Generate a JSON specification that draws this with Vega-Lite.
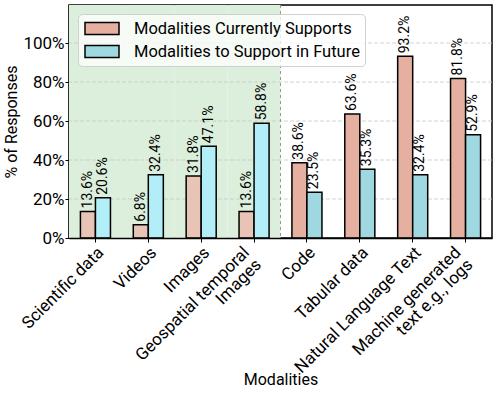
{
  "$schema": "https://vega.github.io/schema/vega-lite/v6.json",
  "width": 423,
  "height": 233,
  "autosize": {"type": "none"},
  "padding": {"left": 69, "top": 5, "right": 7, "bottom": 160},
  "config": {
    "font": "Roboto",
    "view": {"stroke": "black", "strokeWidth": 1.5},
    "axis": {"labelColor": "black", "titleColor": "black", "tickColor": "black", "domainColor": "black", "labelFontSize": 17, "titleFontSize": 16, "titleFontWeight": "normal", "grid": false, "tickSize": 4, "domainWidth": 1.5, "tickWidth": 1}
  },
  "datasets": {
    "main": [
      {"modality": "Scientific data", "series": "Modalities Currently Supports", "region": "left", "value": 0.136},
      {"modality": "Scientific data", "series": "Modalities to Support in Future", "region": "left", "value": 0.206},
      {"modality": "Videos", "series": "Modalities Currently Supports", "region": "left", "value": 0.068},
      {"modality": "Videos", "series": "Modalities to Support in Future", "region": "left", "value": 0.324},
      {"modality": "Images", "series": "Modalities Currently Supports", "region": "left", "value": 0.318},
      {"modality": "Images", "series": "Modalities to Support in Future", "region": "left", "value": 0.471},
      {"modality": "Geospatial temporal Images", "series": "Modalities Currently Supports", "region": "left", "value": 0.136},
      {"modality": "Geospatial temporal Images", "series": "Modalities to Support in Future", "region": "left", "value": 0.588},
      {"modality": "Code", "series": "Modalities Currently Supports", "region": "right", "value": 0.386},
      {"modality": "Code", "series": "Modalities to Support in Future", "region": "right", "value": 0.235},
      {"modality": "Tabular data", "series": "Modalities Currently Supports", "region": "right", "value": 0.636},
      {"modality": "Tabular data", "series": "Modalities to Support in Future", "region": "right", "value": 0.353},
      {"modality": "Natural Language Text", "series": "Modalities Currently Supports", "region": "right", "value": 0.932},
      {"modality": "Natural Language Text", "series": "Modalities to Support in Future", "region": "right", "value": 0.324},
      {"modality": "Machine generated text e.g., logs", "series": "Modalities Currently Supports", "region": "right", "value": 0.818},
      {"modality": "Machine generated text e.g., logs", "series": "Modalities to Support in Future", "region": "right", "value": 0.529}
    ],
    "ticks": [{"t": 0.2}, {"t": 0.4}, {"t": 0.6}, {"t": 0.8}, {"t": 1.0}]
  },
  "layer": [
    {
      "data": {"name": "main"},
      "transform": [{"filter": "datum.region == 'left' && datum.series == 'Modalities Currently Supports'"}],
      "mark": {"type": "rect", "fill": "#dcefdc"},
      "encoding": {
        "x": {
          "field": "modality", "type": "nominal", "title": "Modalities",
          "scale": {"domain": ["Scientific data", "Videos", "Images", "Geospatial temporal Images", "Code", "Tabular data", "Natural Language Text", "Machine generated text e.g., logs"], "paddingInner": 0, "paddingOuter": 0},
          "axis": {
            "labelAngle": -45, "labelAlign": "right", "labelBaseline": "top", "labelPadding": 2, "labelFontSize": 17,
            "labelExpr": "datum.value == 'Geospatial temporal Images' ? ['Geospatial temporal', 'Images'] : datum.value == 'Machine generated text e.g., logs' ? ['Machine generated', 'text e.g., logs'] : datum.value",
            "labelOffset": {"condition": {"test": "indexof(datum.value, 'Geospatial') == 0 || indexof(datum.value, 'Machine') == 0", "value": -13}, "value": 0},
            "labelLineHeight": 17,
            "titlePadding": -4,
            "labelLimit": 300
          }
        }
      }
    },
    {
      "data": {"name": "ticks"},
      "mark": {"type": "rule", "stroke": "#c8c8c8", "strokeDash": [4, 2], "strokeWidth": 0.8},
      "encoding": {
        "y": {"field": "t", "type": "quantitative", "title": "% of Responses",
          "scale": {"domain": [0, 1.195], "nice": false},
          "axis": {"values": [0, 0.2, 0.4, 0.6, 0.8, 1.0], "format": ".0%", "labelPadding": 1, "titlePadding": 3}}
      }
    },
    {
      "data": {"name": "main"},
      "transform": [{"filter": "datum.modality == 'Code' && datum.series == 'Modalities Currently Supports'"}],
      "mark": {"type": "rule", "stroke": "#999999", "strokeDash": [3, 3], "strokeWidth": 1},
      "encoding": {
        "x": {"field": "modality", "type": "nominal", "title": "Modalities", "bandPosition": 0}
      }
    },
    {
      "data": {"name": "main"},
      "transform": [{"filter": "datum.region == 'right'"}],
      "mark": {"type": "bar", "stroke": "black", "strokeWidth": 1.5},
      "encoding": {
        "x": {"field": "modality", "type": "nominal", "title": "Modalities"},
        "xOffset": {"field": "series", "type": "nominal", "scale": {"domain": ["Modalities Currently Supports", "Modalities to Support in Future"], "paddingInner": 0, "paddingOuter": 0.76}},
        "y": {"field": "value", "type": "quantitative", "title": "% of Responses"},
        "color": {"field": "series", "type": "nominal",
          "scale": {"domain": ["Modalities Currently Supports", "Modalities to Support in Future"], "range": ["#e6b0a0", "#a0d8e2"]},
          "legend": {"title": null, "orient": "top-left", "offset": 9, "padding": 5, "labelFontSize": 16.5, "labelColor": "black", "labelOffset": 22.5, "symbolOffset": 9.5, "rowPadding": 4, "symbolType": "M-2,-0.7H2V0.7H-2Z", "symbolSize": 289, "symbolStrokeColor": "black", "symbolStrokeWidth": 1.5, "symbolOpacity": 1, "fillColor": "rgba(255,255,255,0.75)", "strokeColor": "#d0d0d0", "cornerRadius": 4, "labelLimit": 400}
        }
      }
    },
    {
      "data": {"name": "main"},
      "transform": [{"filter": "datum.region == 'left'"}],
      "mark": {"type": "bar", "stroke": "black", "strokeWidth": 1.5},
      "encoding": {
        "x": {"field": "modality", "type": "nominal", "title": "Modalities"},
        "xOffset": {"field": "series", "type": "nominal"},
        "y": {"field": "value", "type": "quantitative", "title": "% of Responses"},
        "color": {"field": "series", "type": "nominal",
          "scale": {"domain": ["Modalities Currently Supports", "Modalities to Support in Future"], "range": ["#e8c4b6", "#b2eef8"]},
          "legend": null}
      }
    },
    {
      "data": {"name": "main"},
      "mark": {"type": "text", "angle": 270, "align": "left", "baseline": "middle", "dx": 3, "fontSize": 14, "color": "black"},
      "encoding": {
        "x": {"field": "modality", "type": "nominal", "title": "Modalities"},
        "xOffset": {"field": "series", "type": "nominal"},
        "y": {"field": "value", "type": "quantitative", "title": "% of Responses"},
        "text": {"field": "value", "type": "quantitative", "format": ".1%"}
      }
    }
  ],
  "resolve": {"scale": {"color": "independent"}}
}
